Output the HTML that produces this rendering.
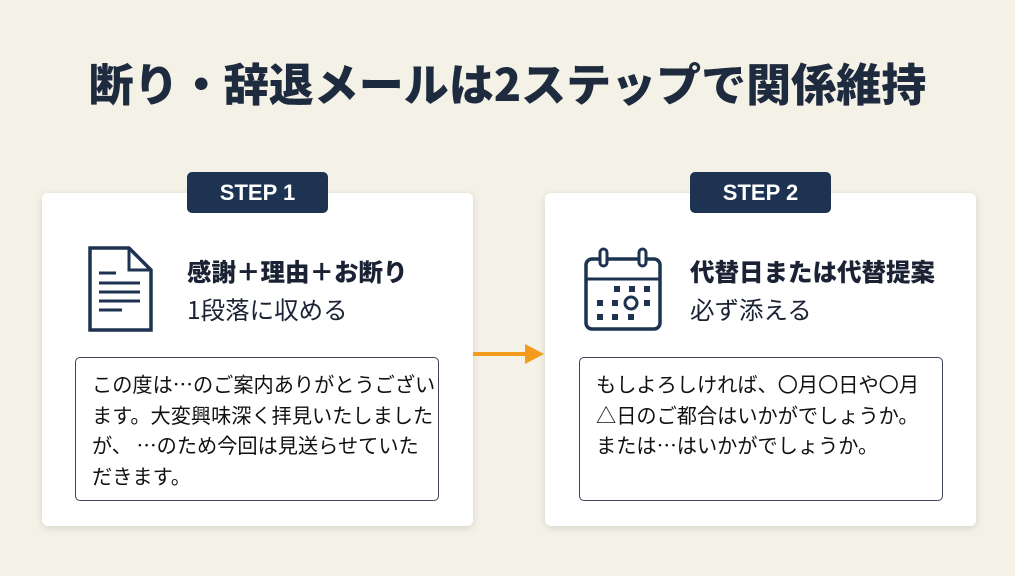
<!DOCTYPE html>
<html><head><meta charset="utf-8"><style>
body{margin:0;width:1015px;height:576px;background:#f4f1e6;font-family:"Liberation Sans","Noto Sans CJK JP",sans-serif;color:#1e2b3f;position:relative;overflow:hidden}
.t{position:absolute;left:0;width:1015px;top:50px;text-align:center;font-size:45px;font-weight:900;line-height:64px;font-family:"Noto Sans CJK JP",sans-serif}
.card{position:absolute;top:193px;width:431px;height:333px;background:#fff;border-radius:6px;box-shadow:0 2px 8px rgba(0,0,0,0.12)}
.badge{position:absolute;top:172px;width:141px;height:41px;background:#1e3351;border-radius:5px;color:#fff;font-weight:bold;font-size:22px;text-align:center;line-height:42px;z-index:2}
.h{position:absolute;font-size:24.5px;line-height:38px;color:#1a2233;font-family:"Noto Sans CJK JP",sans-serif}
.h b{font-weight:900}
.box{position:absolute;top:357px;width:364px;height:144px;border:1.5px solid #3c4556;border-radius:5px;background:#fff;box-sizing:border-box;padding:11px 0 0 16px;font-size:20.2px;line-height:30.5px;color:#111;font-family:"Noto Sans CJK JP",sans-serif;white-space:nowrap}
svg{position:absolute}
</style></head><body>
<div class="t">断り・辞退メールは2ステップで関係維持</div>
<div class="card" style="left:42px"></div>
<div class="card" style="left:545px"></div>
<div class="badge" style="left:187px">STEP 1</div>
<div class="badge" style="left:690px">STEP 2</div>
<svg style="left:86px;top:246px" width="70" height="88" viewBox="0 0 70 88">
<path d="M4 2 H43 L65 24 V84 H4 Z" fill="none" stroke="#1e3351" stroke-width="3.5"/>
<path d="M43 2 V24 H65" fill="none" stroke="#1e3351" stroke-width="3"/>
<g stroke="#1e3351" stroke-width="3"><line x1="13" y1="27" x2="30" y2="27"/><line x1="13" y1="37" x2="54" y2="37"/><line x1="13" y1="46" x2="54" y2="46"/><line x1="13" y1="55" x2="54" y2="55"/><line x1="13" y1="64" x2="36" y2="64"/></g>
</svg>
<div class="h" style="left:187px;top:253px"><b>感謝＋理由＋お断り</b><br>1段落に収める</div>
<svg style="left:583px;top:246px" width="84" height="88" viewBox="0 0 84 88">
<rect x="3" y="13" width="74" height="70" rx="6" fill="none" stroke="#1e3351" stroke-width="3.5"/>
<line x1="3" y1="33" x2="77" y2="33" stroke="#1e3351" stroke-width="3"/>
<rect x="17" y="3" width="7" height="17" rx="3.5" fill="#fff" stroke="#1e3351" stroke-width="3"/>
<rect x="56" y="3" width="7" height="17" rx="3.5" fill="#fff" stroke="#1e3351" stroke-width="3"/>
<g fill="#1e3351"><rect x="31" y="40" width="6" height="6"/><rect x="46" y="40" width="6" height="6"/><rect x="61" y="40" width="6" height="6"/><rect x="14" y="54" width="6" height="6"/><rect x="29" y="54" width="6" height="6"/><rect x="61" y="54" width="6" height="6"/><rect x="14" y="68" width="6" height="6"/><rect x="29" y="68" width="6" height="6"/><rect x="45" y="68" width="6" height="6"/></g>
<circle cx="48" cy="57" r="6" fill="none" stroke="#1e3351" stroke-width="3"/>
</svg>
<div class="h" style="left:690px;top:253px"><b>代替日または代替提案</b><br>必ず添える</div>
<div class="box" style="left:75px">この度は…のご案内ありがとうござい<br>ます。大変興味深く拝見いたしました<br>が、 …のため今回は見送らせていた<br>だきます。</div>
<div class="box" style="left:579px">もしよろしければ、〇月〇日や〇月<br>△日のご都合はいかがでしょうか。<br>または…はいかがでしょうか。</div>
<svg style="left:473px;top:340px" width="75" height="28"><line x1="0" y1="14" x2="56" y2="14" stroke="#f29b1d" stroke-width="4"/><path d="M52 4 L71 14 L52 24 Z" fill="#f29b1d"/></svg>
</body></html>
